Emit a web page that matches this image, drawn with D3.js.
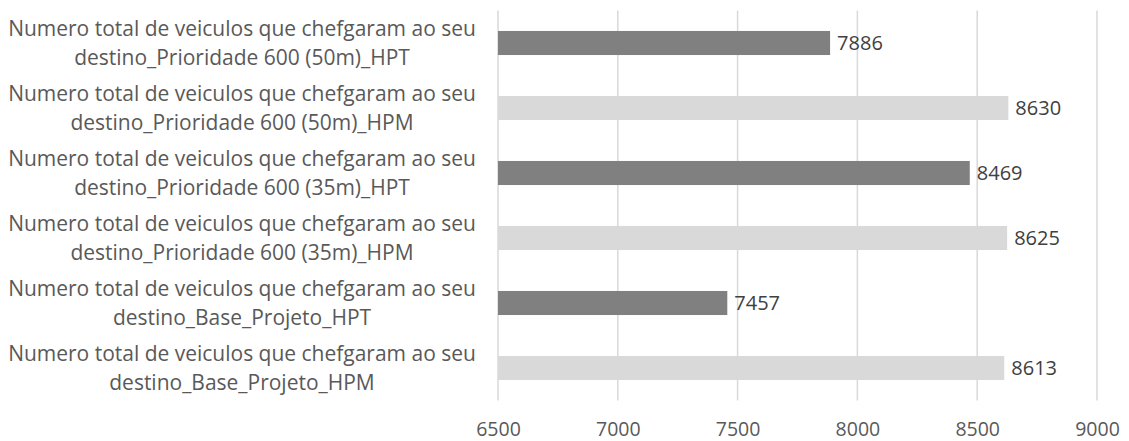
<!DOCTYPE html>
<html><head><meta charset="utf-8">
<script src="https://cdn.jsdelivr.net/npm/d3@7"></script>
<style>body{margin:0;background:#fff}svg{display:block}</style>
</head><body>
<svg id="c" width="1129" height="441"></svg>
<script>
const line1 = ["Numero total de veiculos que chefgaram ao seu","Numero total de veiculos que chefgaram ao seu","Numero total de veiculos que chefgaram ao seu","Numero total de veiculos que chefgaram ao seu","Numero total de veiculos que chefgaram ao seu","Numero total de veiculos que chefgaram ao seu"];
const line2 = ["destino_Prioridade 600 (50m)_HPT","destino_Prioridade 600 (50m)_HPM","destino_Prioridade 600 (35m)_HPT","destino_Prioridade 600 (35m)_HPM","destino_Base_Projeto_HPT","destino_Base_Projeto_HPM"];
const values = [7886, 8630, 8469, 8625, 7457, 8613];
const kinds = ["HPT","HPM","HPT","HPM","HPT","HPM"];
const tickValues = [6500, 7000, 7500, 8000, 8500, 9000];

const font = "'Open Sans', 'Noto Sans', sans-serif";
const svg = d3.select("#c");
const m = {left: 498, right: 1097, top: 10.5, bottom: 400.5};
const x = d3.scaleLinear().domain([6500, 9000]).range([m.left, m.right]);
const idx = d3.range(values.length);
const y = d3.scaleBand().domain(idx).range([m.top, m.bottom]).paddingInner(0.63).paddingOuter(0.315);
const color = d3.scaleOrdinal().domain(["HPT","HPM"]).range(["#808080","#d9d9d9"]);

// gridlines
svg.append("g").selectAll("line").data(tickValues).join("line")
  .attr("x1", d => x(d)).attr("x2", d => x(d))
  .attr("y1", m.top).attr("y2", m.bottom)
  .attr("stroke", "#d9d9d9").attr("stroke-width", 1.5);

// x axis labels
const xAxis = d3.axisBottom(x).tickValues(tickValues).tickSize(0).tickPadding(0).tickFormat(d3.format("d"));
const ax = svg.append("g").attr("transform", `translate(0,${m.bottom})`).call(xAxis);
ax.select(".domain").remove();
ax.selectAll("text").attr("font-family", font).attr("font-size", 19.5).attr("fill", "#595959").attr("dy", null).attr("y", 35);

// bars
svg.append("g").selectAll("rect").data(idx).join("rect")
  .attr("x", x(6500)).attr("y", i => y(i))
  .attr("width", i => x(values[i]) - x(6500)).attr("height", y.bandwidth())
  .attr("fill", i => color(kinds[i]));

// value labels
svg.append("g").selectAll("text").data(idx).join("text")
  .attr("x", i => x(values[i]) + 7).attr("y", i => y(i) + y.bandwidth()/2)
  .attr("dy", "0.36em")
  .attr("font-family", font).attr("font-size", 20).attr("fill", "#404040")
  .text(i => values[i]);

// category labels
const cx = 242;
const lg = svg.append("g");
idx.forEach(i => {
  const yc = y(i) + y.bandwidth()/2;
  const t = lg.append("text").attr("text-anchor", "middle").attr("font-family", font).attr("fill", "#595959").attr("font-size", 17);
  t.append("tspan").attr("x", cx).attr("y", yc - 14.5).attr("dy", "0.36em").text(line1[i]);
  t.append("tspan").attr("x", cx).attr("y", yc + 14.5).attr("dy", "0.36em").text(line2[i]);
});
// fit label font so first line spans ~468px
const probe = lg.select("tspan").node();
const w = probe.getComputedTextLength();
const fs = 17 * 468 / w;
lg.selectAll("text").attr("font-size", fs);
</script>
</body></html>
